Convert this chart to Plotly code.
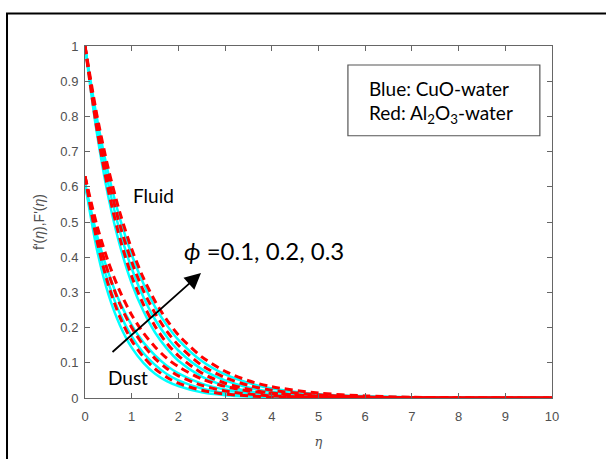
import plotly.graph_objects as go

eta = [0, 0.25, 0.5, 0.75, 1, 1.25, 1.5, 1.75, 2, 2.5, 3, 3.5, 4, 5, 6, 7, 8, 10]

# Fluid velocity f'(eta)
fluid_cuo_01 = [1, 0.756, 0.571, 0.432, 0.326, 0.247, 0.186, 0.141, 0.106, 0.061, 0.035, 0.020, 0.011, 0.004, 0.001, 0.0, 0.0, 0.0]
fluid_al_01 = [1, 0.767, 0.589, 0.452, 0.346, 0.266, 0.204, 0.156, 0.120, 0.071, 0.042, 0.025, 0.014, 0.005, 0.002, 0.001, 0.0, 0.0]
fluid_cuo_02 = [1, 0.779, 0.607, 0.472, 0.368, 0.287, 0.223, 0.174, 0.135, 0.082, 0.050, 0.030, 0.018, 0.007, 0.003, 0.001, 0.0, 0.0]
fluid_al_02 = [1, 0.789, 0.622, 0.490, 0.387, 0.305, 0.241, 0.190, 0.150, 0.093, 0.058, 0.036, 0.022, 0.009, 0.003, 0.001, 0.0, 0.0]
fluid_cuo_03 = [1, 0.799, 0.638, 0.509, 0.407, 0.325, 0.259, 0.207, 0.165, 0.105, 0.067, 0.043, 0.027, 0.011, 0.005, 0.002, 0.001, 0.0]
fluid_al_03 = [1, 0.807, 0.651, 0.525, 0.423, 0.341, 0.275, 0.222, 0.179, 0.117, 0.076, 0.049, 0.032, 0.014, 0.006, 0.002, 0.001, 0.0]

# Dust velocity F'(eta)
dust_cuo_01 = [0.61, 0.425, 0.295, 0.206, 0.143, 0.100, 0.069, 0.048, 0.034, 0.016, 0.008, 0.004, 0.002, 0.0, 0.0, 0.0, 0.0, 0.0]
dust_al_01 = [0.63, 0.450, 0.321, 0.229, 0.163, 0.117, 0.083, 0.059, 0.042, 0.022, 0.011, 0.006, 0.003, 0.001, 0.0, 0.0, 0.0, 0.0]
dust_cuo_02 = [0.61, 0.446, 0.327, 0.239, 0.175, 0.128, 0.094, 0.068, 0.050, 0.027, 0.014, 0.008, 0.004, 0.001, 0.0, 0.0, 0.0, 0.0]
dust_al_02 = [0.63, 0.473, 0.355, 0.266, 0.200, 0.150, 0.112, 0.084, 0.063, 0.036, 0.020, 0.011, 0.006, 0.002, 0.001, 0.0, 0.0, 0.0]
dust_cuo_03 = [0.61, 0.466, 0.356, 0.271, 0.207, 0.158, 0.121, 0.092, 0.070, 0.041, 0.024, 0.014, 0.008, 0.003, 0.001, 0.0, 0.0, 0.0]
dust_al_03 = [0.63, 0.493, 0.386, 0.302, 0.236, 0.185, 0.145, 0.113, 0.089, 0.054, 0.033, 0.020, 0.013, 0.005, 0.002, 0.001, 0.0, 0.0]

cuo_series = [fluid_cuo_01, fluid_cuo_02, fluid_cuo_03, dust_cuo_01, dust_cuo_02, dust_cuo_03]
al_series = [fluid_al_01, fluid_al_02, fluid_al_03, dust_al_01, dust_al_02, dust_al_03]

x_ticks = list(range(0, 11))
y_ticks = [0, 0.1, 0.2, 0.3, 0.4, 0.5, 0.6, 0.7, 0.8, 0.9, 1]
y_tick_text = ["0", "0.1", "0.2", "0.3", "0.4", "0.5", "0.6", "0.7", "0.8", "0.9", "1"]

fig = go.Figure()
for s in cuo_series:
    fig.add_trace(go.Scatter(x=eta, y=s, mode="lines",
                             line=dict(color="#00ffff", width=2.5, shape="spline", smoothing=0.8),
                             showlegend=False, hoverinfo="skip"))
for s in al_series:
    fig.add_trace(go.Scatter(x=eta, y=s, mode="lines",
                             line=dict(color="#ff0000", width=3, dash="8px,5px", shape="spline", smoothing=0.8),
                             showlegend=False, hoverinfo="skip"))

axis_common = dict(showline=True, linecolor="#666666", linewidth=1, mirror="ticks",
                   ticks="inside", ticklen=5, tickcolor="#666666", showgrid=False, zeroline=False,
                   tickfont=dict(family="Liberation Sans, Arial", size=13, color="#505050"))

fig.update_xaxes(range=[0, 10], tickvals=x_ticks, ticklabelstandoff=6,
                 title=dict(text="<i>η</i>", font=dict(family="DejaVu Serif", size=13, color="#505050"), standoff=14),
                 **axis_common)
fig.update_yaxes(range=[0, 1], tickvals=y_ticks, ticktext=y_tick_text, ticklabelstandoff=3,
                 title=dict(text="f'(<i>η</i>),F'(<i>η</i>)", font=dict(family="Liberation Sans, Arial", size=14, color="#505050"), standoff=12),
                 **axis_common)

shapes = [
    # outer frame
    dict(type="rect", xref="paper", yref="paper", x0=-0.167, x1=1.3, y0=-0.3, y1=1.092,
         line=dict(color="black", width=2), fillcolor="rgba(0,0,0,0)", layer="above"),
    # legend box
    dict(type="rect", xref="paper", yref="paper", x0=0.563, x1=0.974, y0=0.745, y1=0.946,
         line=dict(color="#555555", width=1.2), fillcolor="white", layer="above"),
]

txt_font = dict(family="Lato, Carlito, Calibri", size=19, color="black")
annotations = [
    dict(xref="paper", yref="paper", x=(367 - 85) / 467, y=(415 - 91) / 369, text="Blue: CuO-water",
         showarrow=False, xanchor="left", yanchor="middle", font=txt_font),
    dict(xref="paper", yref="paper", x=(367 - 85) / 467, y=(415 - 117) / 369, text="Red: Al<sub>2</sub>O<sub>3</sub>-water",
         showarrow=False, xanchor="left", yanchor="middle", font=txt_font),
    dict(xref="paper", yref="paper", x=(131 - 85) / 467, y=(415 - 203) / 369, text="Fluid",
         showarrow=False, xanchor="left", yanchor="middle", font=txt_font),
    dict(xref="paper", yref="paper", x=(106 - 85) / 467, y=(415 - 394) / 369, text="Dust",
         showarrow=False, xanchor="left", yanchor="middle", font=txt_font),
    dict(xref="paper", yref="paper", x=(182 - 85) / 467, y=(415 - 260) / 369,
         text="<i>ϕ</i> =0.1, 0.2, 0.3",
         showarrow=False, xanchor="left", yanchor="middle",
         font=dict(family="Lato, Carlito, Calibri", size=24, color="black")),
    dict(x=2.484, y=0.355, ax=0.557, ay=0.127, xref="x", yref="y", axref="x", ayref="y",
         showarrow=True, arrowhead=2, arrowsize=1.8, arrowwidth=1.8, arrowcolor="black", text=""),
]

fig.update_layout(width=606, height=459, margin=dict(l=85, r=54, t=46, b=44),
                  paper_bgcolor="white", plot_bgcolor="white",
                  shapes=shapes, annotations=annotations, showlegend=False)

fig.write_html("out.html")
